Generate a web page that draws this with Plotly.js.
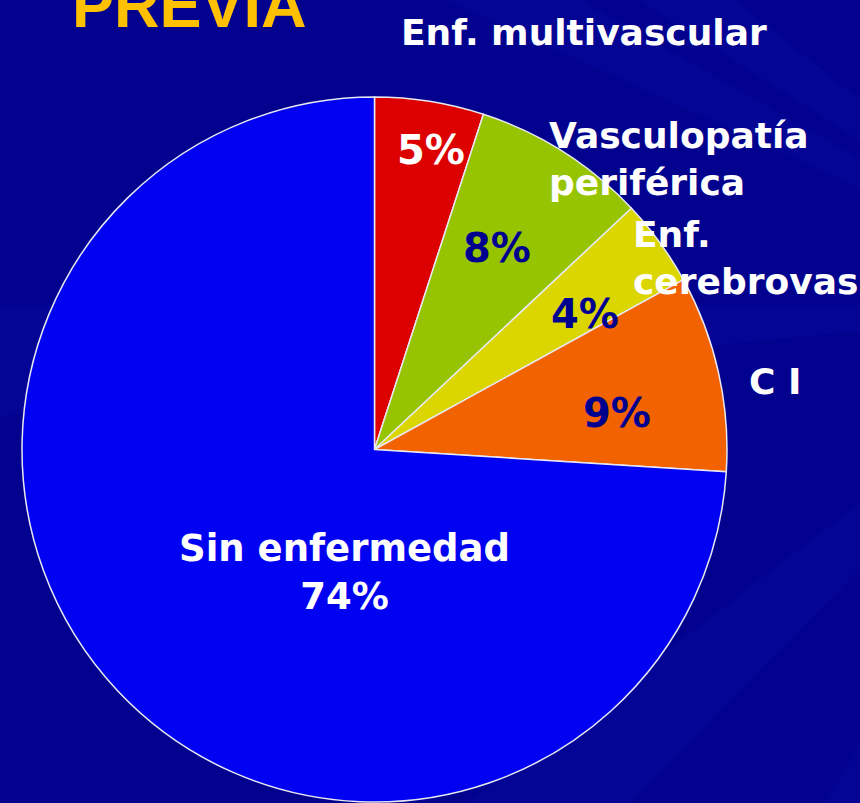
<!DOCTYPE html>
<html>
<head>
<meta charset="utf-8">
<script src="https://cdn.plot.ly/plotly-3.0.1.min.js"></script>
<style>
  html, body { margin: 0; padding: 0; background: #01018c; }
  #chart { width: 860px; height: 803px; }
</style>
</head>
<body>
<div id="chart"></div>
<script>
  // categories clockwise from 12 o'clock
  const categories = ["Enf. multivascular", "Vasculopatía periférica", "Enf. cerebrovas", "C I", "Sin enfermedad"];
  const values = [5, 8, 4, 9, 74];
  const sliceColors = ["#dc0000", "#96c400", "#dcd600", "#f26200", "#0202f2"];

  // outside category labels (text as it wraps on the slide)
  const outsideLabels = ["Enf. multivascular", "Vasculopatía<br>periférica", "Enf.<br>cerebrovas", "C I"];
  const outsidePos = [[399, 32], [547, 159], [631, 258], [747, 381]];
  const pctPos = [[431, 150], [497, 248], [585, 314], [617, 413], [344, 572]];
  const pctColors = ["#ffffff", "#00008f", "#00008f", "#00008f", "#ffffff"];

  const W = 860, H = 803;
  const px = (x) => x / W;
  const py = (y) => 1 - y / H;

  const annotations = [];
  outsideLabels.forEach((t, i) => {
    annotations.push({
      text: t, x: px(outsidePos[i][0]), y: py(outsidePos[i][1]), xref: "paper", yref: "paper",
      xanchor: "left", yanchor: "middle", align: "left", showarrow: false,
      font: { family: "DejaVu Sans", size: 36, color: "#ffffff", weight: "bold" }
    });
  });
  values.forEach((v, i) => {
    const last = i === values.length - 1;
    annotations.push({
      text: last ? categories[i] + "<br>" + v + "%" : v + "%",
      x: px(pctPos[i][0]), y: py(pctPos[i][1]), xref: "paper", yref: "paper",
      xanchor: "center", yanchor: "middle", align: "center", showarrow: false,
      font: { family: "DejaVu Sans", size: last ? 37 : 40, color: pctColors[i], weight: "bold" }
    });
  });
  // slide title, cut off by the top edge
  annotations.push({
    text: "PREVIA", x: px(70), y: py(5), xref: "paper", yref: "paper",
    xanchor: "left", yanchor: "middle", showarrow: false,
    font: { family: "Liberation Sans", size: 63, color: "#ffc000", weight: "bold" }
  });

  // faint light rays in the background
  const rays = [
    "M 1.3 0.62 L -0.2 1.35 L 0.1 1.35 Z",
    "M 1.3 0.62 L 0.45 1.2 L 0.62 1.2 Z",
    "M 1.3 0.62 L -0.3 0.45 L -0.3 0.62 Z",
    "M 1.3 0.62 L 0.3 -0.2 L 0.55 -0.2 Z",
    "M 1.3 0.62 L 0.85 -0.2 L 0.95 -0.2 Z"
  ];
  const shapes = rays.map((p) => ({
    type: "path", path: p, xref: "paper", yref: "paper", layer: "below",
    fillcolor: "rgba(30,30,200,0.13)", line: { width: 0 }
  }));

  const trace = {
    type: "pie", labels: categories, values: values, sort: false,
    direction: "clockwise", rotation: 0, textinfo: "none", hoverinfo: "label+percent",
    marker: { colors: sliceColors, line: { color: "#e8e8f0", width: 1.5 } },
    domain: { x: [px(22), px(727)], y: [py(802), py(97)] },
    showlegend: false
  };

  const layout = {
    width: W, height: H,
    paper_bgcolor: "#02028e", plot_bgcolor: "#02028e",
    margin: { l: 0, r: 0, t: 0, b: 0 },
    annotations: annotations, shapes: shapes
  };

  Plotly.newPlot("chart", [trace], layout, { displayModeBar: false, staticPlot: true });
</script>
</body>
</html>
